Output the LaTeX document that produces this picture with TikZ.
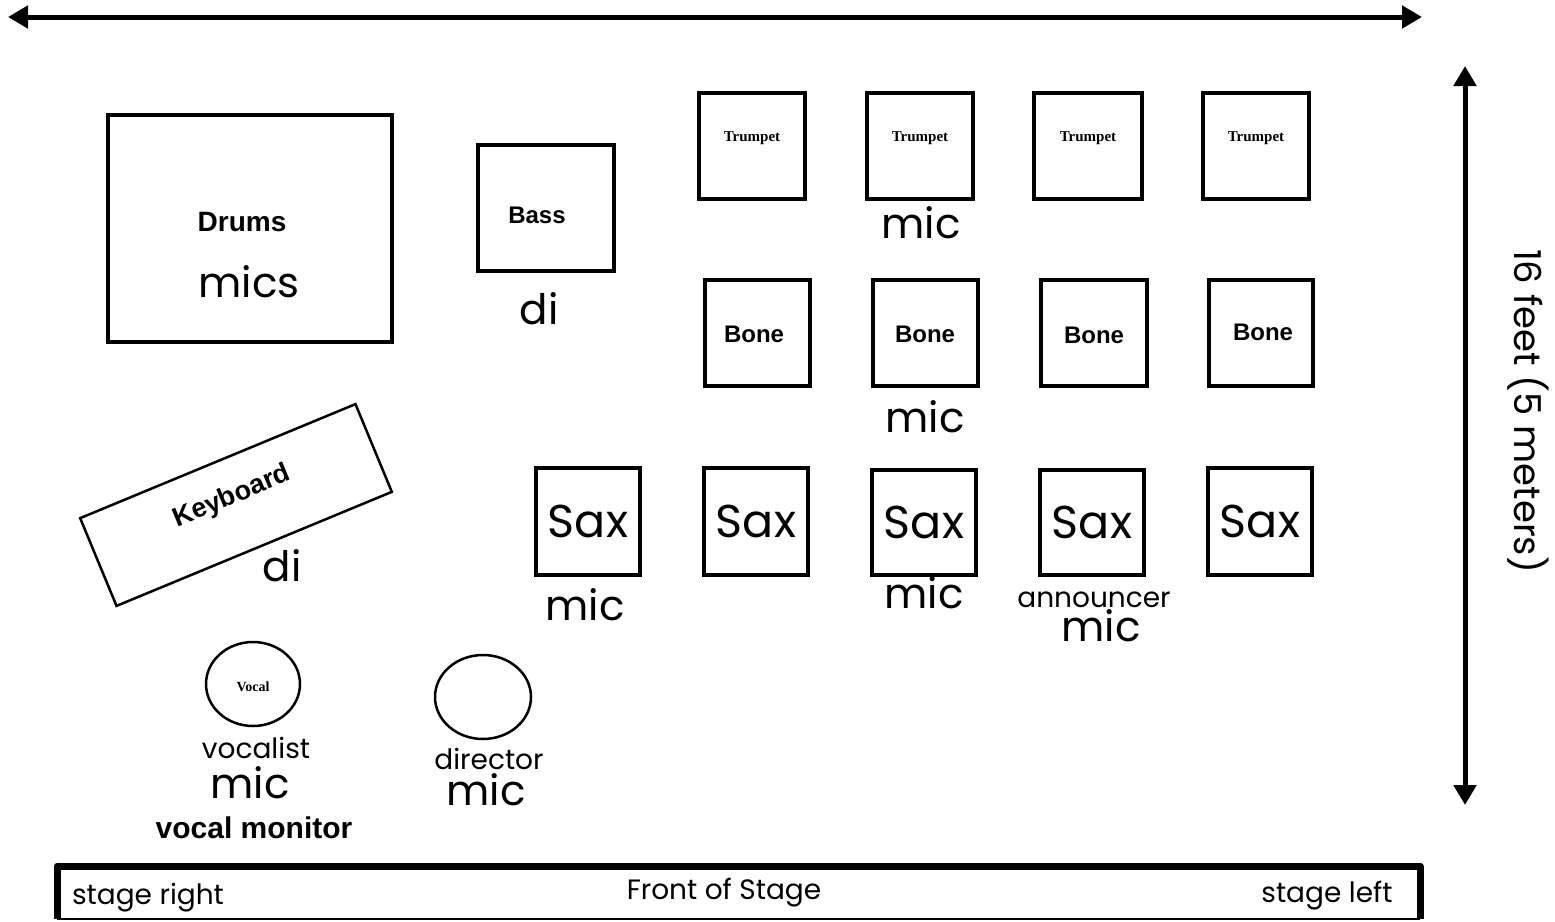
\documentclass[tikz,border=0pt]{standalone}
\usepackage{fontspec}
\setmainfont{Poppins}
\newfontfamily\boldfam{Liberation Sans}
\newfontfamily\tinyfam{Liberation Serif}
\usetikzlibrary{arrows.meta,shapes.geometric}
\tikzset{
  stbox/.style={draw, line width=4pt, inner sep=0pt},
  tbox/.style={stbox, minimum width=106pt, minimum height=106pt},
  boneb/.style={stbox, minimum width=105pt, minimum height=106pt},
  saxb/.style={stbox, minimum width=104pt, minimum height=107pt, font=\fontsize{46}{50}\selectfont},
  tinylbl/.style={font=\tinyfam\bfseries\fontsize{15}{16}\selectfont},
  blbl/.style={font=\boldfam\bfseries\fontsize{24}{26}\selectfont, inner sep=0pt},
  bonelbl/.style={font=\boldfam\bfseries\fontsize{24}{26}\selectfont, inner sep=0pt},
  biglbl/.style={font=\fontsize{42}{46}\selectfont, inner sep=0pt},
  midlbl/.style={font=\fontsize{28}{30}\selectfont, inner sep=0pt},
  dimarrow/.style={line width=5pt, {Triangle[length=20pt,width=22pt]}-{Triangle[length=20pt,width=22pt]}},
}
\begin{document}
\begin{tikzpicture}[x=1pt,y=-1pt]
\useasboundingbox (0,0) rectangle (1555,921);
% dimension arrows
\coordinate (hl) at (8,17);
\coordinate (hr) at (1422,17);
\draw[dimarrow] (hl) -- (hr);
\coordinate (vt) at (1465,66);
\coordinate (vb) at (1465,805);
\draw[dimarrow] (vt) -- (vb);
\node[font=\fontsize{37}{40}\selectfont, rotate=-90] (dim) at (1528,411) {16 feet (5 meters)};
% drums
\node[stbox, minimum width=284pt, minimum height=227pt] (drums) at (250,228.5) {};
\node[blbl, font=\boldfam\bfseries\fontsize{28}{30}\selectfont] (drumsl) at (242,222) {Drums};
\node[biglbl] (drumsm) at (249,282) {mics};
% bass
\node[stbox, minimum width=136pt, minimum height=126pt] (bass) at (546,208) {};
\node[blbl] (bassl) at (537,215) {Bass};
\node[biglbl] (bassdi) at (539,309) {di};
% trumpets
\node[tbox] (tr1) at (752,146) {};
\node[tinylbl] at (752,138) {Trumpet};
\node[tbox] (tr2) at (920,146) {};
\node[tinylbl] at (920,138) {Trumpet};
\node[tbox, minimum width=108pt] (tr3) at (1088,146) {};
\node[tinylbl] at (1088,138) {Trumpet};
\node[tbox] (tr4) at (1256,146) {};
\node[tinylbl] at (1256,138) {Trumpet};
\node[biglbl] (trmic) at (921,223) {mic};
% bones
\node[boneb] (bo1) at (757.5,333) {};
\node[bonelbl] at (754,334) {Bone};
\node[boneb] (bo2) at (925.5,333) {};
\node[bonelbl] at (925,334) {Bone};
\node[boneb, minimum width=106pt] (bo3) at (1094,333) {};
\node[bonelbl] at (1094,335) {Bone};
\node[boneb, minimum width=104pt] (bo4) at (1261,333) {};
\node[bonelbl] at (1263,332) {Bone};
\node[biglbl] (bomic) at (925,417) {mic};
% saxes
\node[saxb] (sx1) at (588,521) {Sax};
\node[saxb] (sx2) at (756,521) {Sax};
\node[saxb, minimum height=105pt] (sx3) at (924,522) {Sax};
\node[saxb, minimum height=105pt] (sx4) at (1092,522) {Sax};
\node[saxb] (sx5) at (1260,521) {Sax};
\node[biglbl] (sx1mic) at (585,605) {mic};
\node[biglbl] (sx3mic) at (924,593) {mic};
\node[midlbl] (annc) at (1094,600) {announcer};
\node[biglbl] (anncmic) at (1101,626) {mic};
% keyboard
\node[draw, line width=2.5pt, minimum width=298pt, minimum height=95pt, inner sep=0pt, rotate=22.5] (kbd) at (236,505) {};
\node[blbl, font=\boldfam\bfseries\fontsize{27}{29}\selectfont, rotate=22.5] (kbdl) at (232,497) {Keyboard};
\node[biglbl] (kbddi) at (282,566) {di};
% vocal
\node[ellipse, draw, line width=2.5pt, minimum width=94pt, minimum height=84pt, inner sep=0pt] (vocal) at (253,684) {};
\node[tinylbl, font=\tinyfam\bfseries\fontsize{14}{15}\selectfont] at (253,687) {Vocal};
\node[midlbl] (vocl) at (256,748) {vocalist};
\node[blbl, font=\boldfam\bfseries\fontsize{30}{32}\selectfont] (vocmon) at (254,828) {vocal monitor};
\node[biglbl] (vocmic) at (250,783) {mic};
% director
\node[ellipse, draw, line width=2.5pt, minimum width=96pt, minimum height=84pt, inner sep=0pt] (dir) at (483,697) {};
\node[midlbl] (dirl) at (489,759) {director};
\node[biglbl] (dirmic) at (486,790) {mic};
% front of stage
\coordinate (fbl) at (57,919);
\coordinate (ftl) at (57,866);
\coordinate (ftr) at (1420,866);
\coordinate (fbr) at (1420,919);
\draw[line width=7pt, line join=round] (fbl) -- (ftl) -- (ftr) -- (fbr);
\draw[line width=2pt] (fbl) -- (fbr);
\node[midlbl] (sr) at (148,898) {stage right};
\node[midlbl] (fos) at (724,893) {Front of Stage};
\node[midlbl] (sl) at (1327,896) {stage left};
\end{tikzpicture}
\end{document}
